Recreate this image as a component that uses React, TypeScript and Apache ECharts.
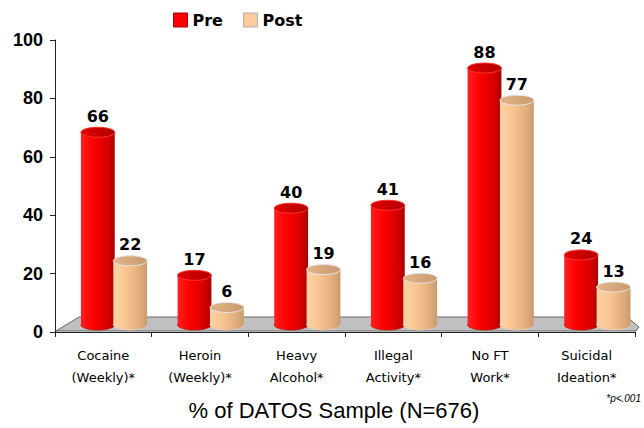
import React, { useEffect, useRef } from "react";
import * as echarts from "echarts";

const categories = [
  "Cocaine\n(Weekly)*",
  "Heroin\n(Weekly)*",
  "Heavy\nAlcohol*",
  "Illegal\nActivity*",
  "No FT\nWork*",
  "Suicidal\nIdeation*",
];
const preValues = [66, 17, 40, 41, 88, 24];
const postValues = [22, 6, 19, 16, 77, 13];
const yMin = 0;
const yMax = 100;
const yInterval = 20;
const axisTitle = "% of DATOS Sample (N=676)";
const footnote = "*p<.001";

type Look = {
  body: any;
  top: any;
  topStroke: string;
  edge: string;
};

const preLook: Look = {
  body: {
    type: "linear", x: 0, y: 0, x2: 1, y2: 0,
    colorStops: [
      { offset: 0, color: "#ff2020" },
      { offset: 0.35, color: "#ff0000" },
      { offset: 0.8, color: "#d40000" },
      { offset: 1, color: "#a80000" },
    ],
  },
  top: {
    type: "linear", x: 0, y: 0, x2: 1, y2: 0,
    colorStops: [
      { offset: 0, color: "#e00000" },
      { offset: 1, color: "#b00000" },
    ],
  },
  topStroke: "#ff3030",
  edge: "#b00000",
};

const postLook: Look = {
  body: {
    type: "linear", x: 0, y: 0, x2: 1, y2: 0,
    colorStops: [
      { offset: 0, color: "#ffd2a4" },
      { offset: 0.4, color: "#f7c48f" },
      { offset: 0.8, color: "#deac7c" },
      { offset: 1, color: "#c89a6c" },
    ],
  },
  top: {
    type: "linear", x: 0, y: 0, x2: 1, y2: 0,
    colorStops: [
      { offset: 0, color: "#e2b488" },
      { offset: 1, color: "#c99a6e" },
    ],
  },
  topStroke: "#e6e6e6",
  edge: "#d8d8d8",
};

function makeCylinder(offsetFrac: number, look: Look) {
  return (params: any, api: any) => {
    const idx = api.value(0);
    const v = api.value(1);
    const band = api.size([1, 0])[0];
    const topPt = api.coord([idx, v]);
    const basePt = api.coord([idx, 0]);
    const w = band * 0.35;
    const cx = topPt[0] + band * offsetFrac;
    const lift = 7;
    const ry = 5;
    const yt = topPt[1] - lift;
    const yb = basePt[1] - lift;
    return {
      type: "group",
      children: [
        {
          type: "ellipse",
          shape: { cx, cy: yb, rx: w / 2, ry },
          style: { fill: look.body, stroke: look.edge, lineWidth: 0.6 },
        },
        {
          type: "rect",
          shape: { x: cx - w / 2, y: yt, width: w, height: Math.max(0, yb - yt) },
          style: { fill: look.body },
        },
        {
          type: "ellipse",
          shape: { cx, cy: yt, rx: w / 2, ry },
          style: { fill: look.top, stroke: look.topStroke, lineWidth: 1 },
        },
        {
          type: "text",
          style: {
            text: String(v),
            x: cx,
            y: yt - 16,
            align: "center",
            verticalAlign: "middle",
            font: "bold 16px 'DejaVu Sans'",
            fill: "#000",
          },
        },
      ],
    };
  };
}

export default function App() {
  const ref = useRef<HTMLDivElement>(null);
  useEffect(() => {
    document.body.style.margin = "0";
    const chart = echarts.init(ref.current!, null, { renderer: "svg" });
    const option: any = {
      animation: false,
      backgroundColor: "#ffffff",
      grid: { left: 55, right: 9, top: 40, bottom: 96, containLabel: false },
      legend: {
        left: 168,
        top: 7,
        itemWidth: 14,
        itemHeight: 14,
        itemGap: 20,
        icon: "rect",
        textStyle: {
          fontFamily: "DejaVu Sans",
          fontWeight: "bold",
          fontSize: 16,
          color: "#000",
        },
        data: [
          { name: "Pre", itemStyle: { color: "#ff0000", borderColor: "#a00000", borderWidth: 1 } },
          { name: "Post", itemStyle: { color: "#ffcc99", borderColor: "#b0b0b0", borderWidth: 1 } },
        ],
      },
      xAxis: {
        type: "category",
        data: categories,
        boundaryGap: true,
        axisLine: { show: true, lineStyle: { color: "#222", width: 1 } },
        axisTick: { show: true, length: 5, lineStyle: { color: "#222" } },
        axisLabel: {
          interval: 0,
          fontFamily: "DejaVu Sans",
          fontSize: 13,
          lineHeight: 22,
          color: "#000",
          margin: 12,
        },
        splitLine: { show: false },
      },
      yAxis: {
        type: "value",
        min: yMin,
        max: yMax,
        interval: yInterval,
        axisLine: { show: true, lineStyle: { color: "#222", width: 1 } },
        axisTick: { show: true, length: 5, lineStyle: { color: "#222" } },
        axisLabel: {
          fontFamily: "Liberation Sans",
          fontWeight: "bold",
          fontSize: 18,
          color: "#000",
          margin: 12,
        },
        splitLine: { show: false },
      },
      graphic: [
        {
          type: "text",
          x: 334,
          y: 410,
          style: {
            text: axisTitle,
            align: "center",
            verticalAlign: "middle",
            font: "22px 'Liberation Sans'",
            fill: "#000",
          },
        },
        {
          type: "text",
          x: 641,
          y: 398,
          style: {
            text: footnote,
            align: "right",
            verticalAlign: "middle",
            font: "italic 10px 'Liberation Sans'",
            fill: "#000",
          },
        },
      ],
      series: [
        {
          type: "custom",
          name: "floor",
          z: 1,
          silent: true,
          data: [[0, 0]],
          renderItem: (params: any) => {
            const cs = params.coordSys;
            const x0 = cs.x;
            const x1 = cs.x + cs.width;
            const y0 = cs.y + cs.height;
            return {
              type: "polygon",
              shape: {
                points: [
                  [x0 + 1, y0 - 1],
                  [x0 + 24, y0 - 15],
                  [x1 - 8, y0 - 15],
                  [x1 + 4, y0 - 5],
                  [x1 + 1, y0 - 1],
                ],
              },
              style: { fill: "#c0c0c0", stroke: "#666", lineWidth: 1 },
            };
          },
        },
        {
          type: "custom",
          name: "Pre",
          z: 3,
          itemStyle: { color: "#ff0000" },
          data: preValues.map((v, i) => [i, v]),
          renderItem: makeCylinder(-0.057, preLook),
        },
        {
          type: "custom",
          name: "Post",
          z: 4,
          itemStyle: { color: "#ffcc99" },
          data: postValues.map((v, i) => [i, v]),
          renderItem: makeCylinder(0.278, postLook),
        },
      ],
    };
    chart.setOption(option);
    return () => chart.dispose();
  }, []);
  return <div ref={ref} style={{ width: 644, height: 428 }} />;
}
